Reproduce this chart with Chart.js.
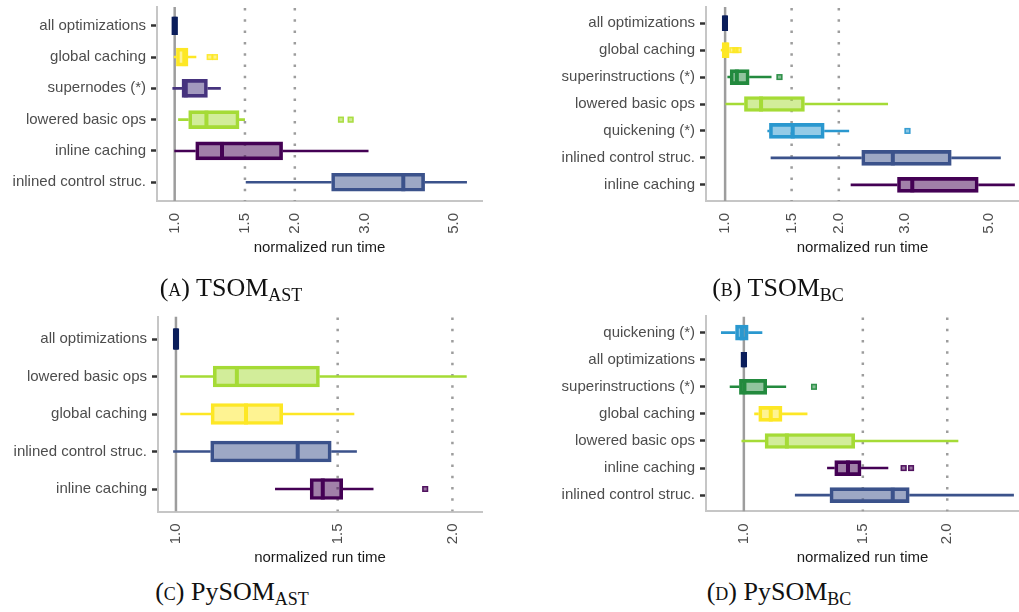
<!DOCTYPE html>
<html><head><meta charset="utf-8">
<script src="https://cdn.jsdelivr.net/npm/chart.js@4.4.1/dist/chart.umd.min.js"></script>
<style>
html,body{margin:0;padding:0;background:#fff;width:1019px;height:612px;overflow:hidden;position:relative}
canvas.panel{position:absolute}
.cap{position:absolute;width:300px;text-align:center;font-family:"Liberation Serif","DejaVu Serif",serif;font-size:26px;color:#111;line-height:30px;white-space:nowrap}
.cap .sc{font-variant:small-caps}
.cap sub{font-size:18px;vertical-align:-5px;line-height:0}
</style></head><body>
<canvas id="cA" class="panel" width="500" height="260" style="left:0;top:0"></canvas>
<canvas id="cB" class="panel" width="519" height="260" style="left:500px;top:0"></canvas>
<canvas id="cC" class="panel" width="500" height="267" style="left:0;top:300px"></canvas>
<canvas id="cD" class="panel" width="519" height="267" style="left:500px;top:300px"></canvas>
<div class="cap" style="left:81px;top:273px"><span class="sc">(a)</span> TSOM<sub>AST</sub></div>
<div class="cap" style="left:628px;top:273px"><span class="sc">(b)</span> TSOM<sub>BC</sub></div>
<div class="cap" style="left:82px;top:577px"><span class="sc">(c)</span> PySOM<sub>AST</sub></div>
<div class="cap" style="left:629px;top:577px"><span class="sc">(d)</span> PySOM<sub>BC</sub></div>
<script>
// ---------- data ----------
const xTicksAB = [1.0, 1.5, 2.0, 3.0, 5.0];
const xTicksCD = [1.0, 1.5, 2.0];
const solidRefs = [1.0];
const dottedRefs = [1.5, 2.0];

// (A) TSOM_AST
const catsA = ['all optimizations','global caching','supernodes (*)','lowered basic ops','inline caching','inlined control struc.'];
const lowA  = [0.983, 0.995, 0.987, 1.02, 0.998, 1.507];
const q1A   = [0.983, 1.01, 1.043, 1.084, 1.129, 2.473];
const medA  = [1.0, 1.057, 1.066, 1.201, 1.314, 3.74];
const q3A   = [1.017, 1.08, 1.208, 1.45, 1.864, 4.23];
const highA = [1.017, 1.133, 1.305, 1.50, 3.06, 5.40];
const outA  = [[], [1.224, 1.262], [], [2.61, 2.76], [], []];

// (B) TSOM_BC
const catsB = ['all optimizations','global caching','superinstructions (*)','lowered basic ops','quickening (*)','inlined control struc.','inline caching'];
const lowB  = [0.982, 0.974, 1.014, 1.002, 1.294, 1.32, 2.15];
const q1B   = [0.982, 0.982, 1.031, 1.125, 1.31, 2.30, 2.86];
const medB  = [1.0, 1.005, 1.074, 1.245, 1.51, 2.78, 3.13];
const q3B   = [1.016, 1.025, 1.158, 1.622, 1.83, 3.97, 4.68];
const highB = [1.016, 1.025, 1.327, 2.70, 2.13, 5.37, 5.85];
const outB  = [[], [1.045, 1.065, 1.085], [1.393], [], [3.04], [], []];

// (C) PySOM_AST
const catsC = ['all optimizations','lowered basic ops','global caching','inlined control struc.','inline caching'];
const lowC  = [0.993, 1.010, 1.011, 0.993, 1.282];
const q1C   = [0.993, 1.098, 1.092, 1.091, 1.400];
const medC  = [1.0, 1.165, 1.192, 1.357, 1.445];
const q3C   = [1.0075, 1.433, 1.307, 1.476, 1.519];
const highC = [1.0075, 2.073, 1.564, 1.574, 1.641];
const outC  = [[], [], [], [], [1.868]];

// (D) PySOM_BC
const catsD = ['quickening (*)','all optimizations','superinstructions (*)','global caching','lowered basic ops','inline caching','inlined control struc.'];
const lowD  = [0.925, 0.99, 0.953, 1.036, 0.992, 1.328, 1.19];
const q1D   = [0.972, 0.99, 0.985, 1.052, 1.075, 1.363, 1.341];
const medD  = [0.993, 1.0, 1.002, 1.096, 1.158, 1.426, 1.661];
const q3D   = [1.015, 1.01, 1.081, 1.139, 1.459, 1.491, 1.757];
const highD = [1.065, 1.01, 1.155, 1.242, 2.077, 1.636, 2.51];
const outD  = [[], [], [1.27], [], [], [1.724, 1.768], []];

// ---------- styles ----------
const palette = {
  'all optimizations': '#0B1E5B',
  'global caching': '#FDE725',
  'supernodes (*)': '#46337E',
  'lowered basic ops': '#A5DB36',
  'inline caching': '#440154',
  'inlined control struc.': '#3B528B',
  'superinstructions (*)': '#238A3E',
  'quickening (*)': '#2A98CF'
};
const FONT = '"Liberation Sans", Arial, sans-serif';
function rgba(hex, a) {
  const n = parseInt(hex.slice(1), 16);
  return `rgba(${(n>>16)&255},${(n>>8)&255},${n&255},${a})`;
}

function makeChart(id, p, g) {
  const n = p.cats.length;
  const cols = p.cats.map(c => palette[c]);
  const plugin = {
    id: 'boxdeco_' + id,
    beforeDatasetsDraw(chart) {
      const {ctx, chartArea: a, scales: {x, y}} = chart;
      ctx.save();
      ctx.beginPath(); ctx.rect(a.left, a.top, a.right - a.left, a.bottom - a.top); ctx.clip();
      ctx.strokeStyle = '#9d9d9d'; ctx.lineWidth = 2.5; ctx.lineCap = 'butt';
      solidRefs.forEach(v => { const px = x.getPixelForValue(v); ctx.beginPath(); ctx.moveTo(px, a.top); ctx.lineTo(px, a.bottom); ctx.stroke(); });
      ctx.setLineDash([2.5, 8.8]);
      dottedRefs.forEach(v => { const px = x.getPixelForValue(v); ctx.beginPath(); ctx.moveTo(px, a.top + 1); ctx.lineTo(px, a.bottom); ctx.stroke(); });
      ctx.setLineDash([]);
      ctx.lineWidth = 2.6;
      p.cats.forEach((c, i) => {
        const py = y.getPixelForValue(i);
        ctx.strokeStyle = cols[i];
        ctx.beginPath();
        ctx.moveTo(x.getPixelForValue(p.low[i]), py); ctx.lineTo(x.getPixelForValue(p.q1[i]), py);
        ctx.moveTo(x.getPixelForValue(p.q3[i]), py); ctx.lineTo(x.getPixelForValue(p.high[i]), py);
        ctx.stroke();
      });
      ctx.restore();
    },
    afterDatasetsDraw(chart) {
      const {ctx, chartArea: a, scales: {x, y}} = chart;
      ctx.save();
      ctx.beginPath(); ctx.rect(a.left, a.top, a.right - a.left, a.bottom - a.top); ctx.clip();
      p.cats.forEach((c, i) => {
        const py = y.getPixelForValue(i);
        const h = g.bar / 2;
        const pm = x.getPixelForValue(p.med[i]);
        ctx.strokeStyle = cols[i]; ctx.lineWidth = 4;
        ctx.beginPath(); ctx.moveTo(pm, py - h); ctx.lineTo(pm, py + h); ctx.stroke();
        p.out[i].forEach(v => {
          const po = x.getPixelForValue(v);
          ctx.fillStyle = rgba(cols[i], 0.55);
          ctx.fillRect(po - 3, py - 3, 6, 6);
          ctx.strokeStyle = rgba(cols[i], 0.85); ctx.lineWidth = 1.5;
          ctx.strokeRect(po - 2.25, py - 2.25, 4.5, 4.5);
        });
      });
      ctx.restore();
    }
  };
  return new Chart(document.getElementById(id), {
    type: 'bar',
    data: {
      datasets: [{
        data: p.cats.map((c, i) => ({y: i, x: [p.q1[i], p.q3[i]]})),
        backgroundColor: cols.map(c => rgba(c, 0.5)),
        borderColor: cols,
        borderWidth: 3,
        borderSkipped: false,
        barThickness: g.bar
      }]
    },
    options: {
      indexAxis: 'y', responsive: false, animation: false, devicePixelRatio: 1,
      layout: {padding: {top: g.pt, right: g.pr, bottom: g.pb, left: 0}},
      plugins: {legend: {display: false}, tooltip: {enabled: false}},
      scales: {
        x: {
          type: 'logarithmic', min: g.xmin, max: g.xmax, bounds: 'data', offset: false,
          afterBuildTicks: s => { s.ticks = p.xticks.map(v => ({value: v})); },
          afterFit: s => { s.height = g.xh; s.paddingLeft = 0; s.paddingRight = 0; },
          grid: {display: false, drawTicks: false, offset: false},
          border: {display: true, color: '#c6c6c6', width: 2},
          ticks: {autoSkip: false, minRotation: 90, maxRotation: 90, padding: 12, color: '#4d4d4d',
                  font: {family: FONT, size: 15}, callback: v => Number(v).toFixed(1)},
          title: {display: true, text: 'normalized run time', color: '#1a1a1a', font: {family: FONT, size: 15}, padding: 0}
        },
        y: {
          type: 'linear', min: -0.6, max: n - 0.4, reverse: true, bounds: 'data', offset: false,
          afterBuildTicks: s => { s.ticks = p.cats.map((c, i) => ({value: i})); },
          afterFit: s => { s.width = g.yw; s.paddingTop = 0; s.paddingBottom = 0; },
          grid: {display: true, offset: false, drawOnChartArea: false, drawTicks: true, tickLength: 6, tickColor: '#333333', tickWidth: 2.5},
          border: {display: true, color: '#c6c6c6', width: 2},
          ticks: {autoSkip: false, padding: 5, color: '#4d4d4d', font: {family: FONT, size: 15},
                  callback: v => p.cats[v]}
        }
      }
    },
    plugins: [plugin]
  });
}

makeChart('cA', {cats: catsA, low: lowA, q1: q1A, med: medA, q3: q3A, high: highA, out: outA, xticks: xTicksAB},
  {bar: 18, pt: 7, pr: 18, pb: 3, xh: 56, yw: 157, xmin: 0.903, xmax: 5.89});
makeChart('cB', {cats: catsB, low: lowB, q1: q1B, med: medB, q3: q3B, high: highB, out: outB, xticks: xTicksAB},
  {bar: 15, pt: 7, pr: 0, pb: 3, xh: 56, yw: 206, xmin: 0.89, xmax: 6.0});
makeChart('cC', {cats: catsC, low: lowC, q1: q1C, med: medC, q3: q3C, high: highC, out: outC, xticks: xTicksCD},
  {bar: 21, pt: 16.5, pr: 18, pb: 0, xh: 55.5, yw: 158, xmin: 0.956, xmax: 2.154});
makeChart('cD', {cats: catsD, low: lowD, q1: q1D, med: medD, q3: q3D, high: highD, out: outD, xticks: xTicksCD},
  {bar: 15, pt: 16.4, pr: 0, pb: 0, xh: 55.6, yw: 206, xmin: 0.879, xmax: 2.554});
</script>
</body></html>
